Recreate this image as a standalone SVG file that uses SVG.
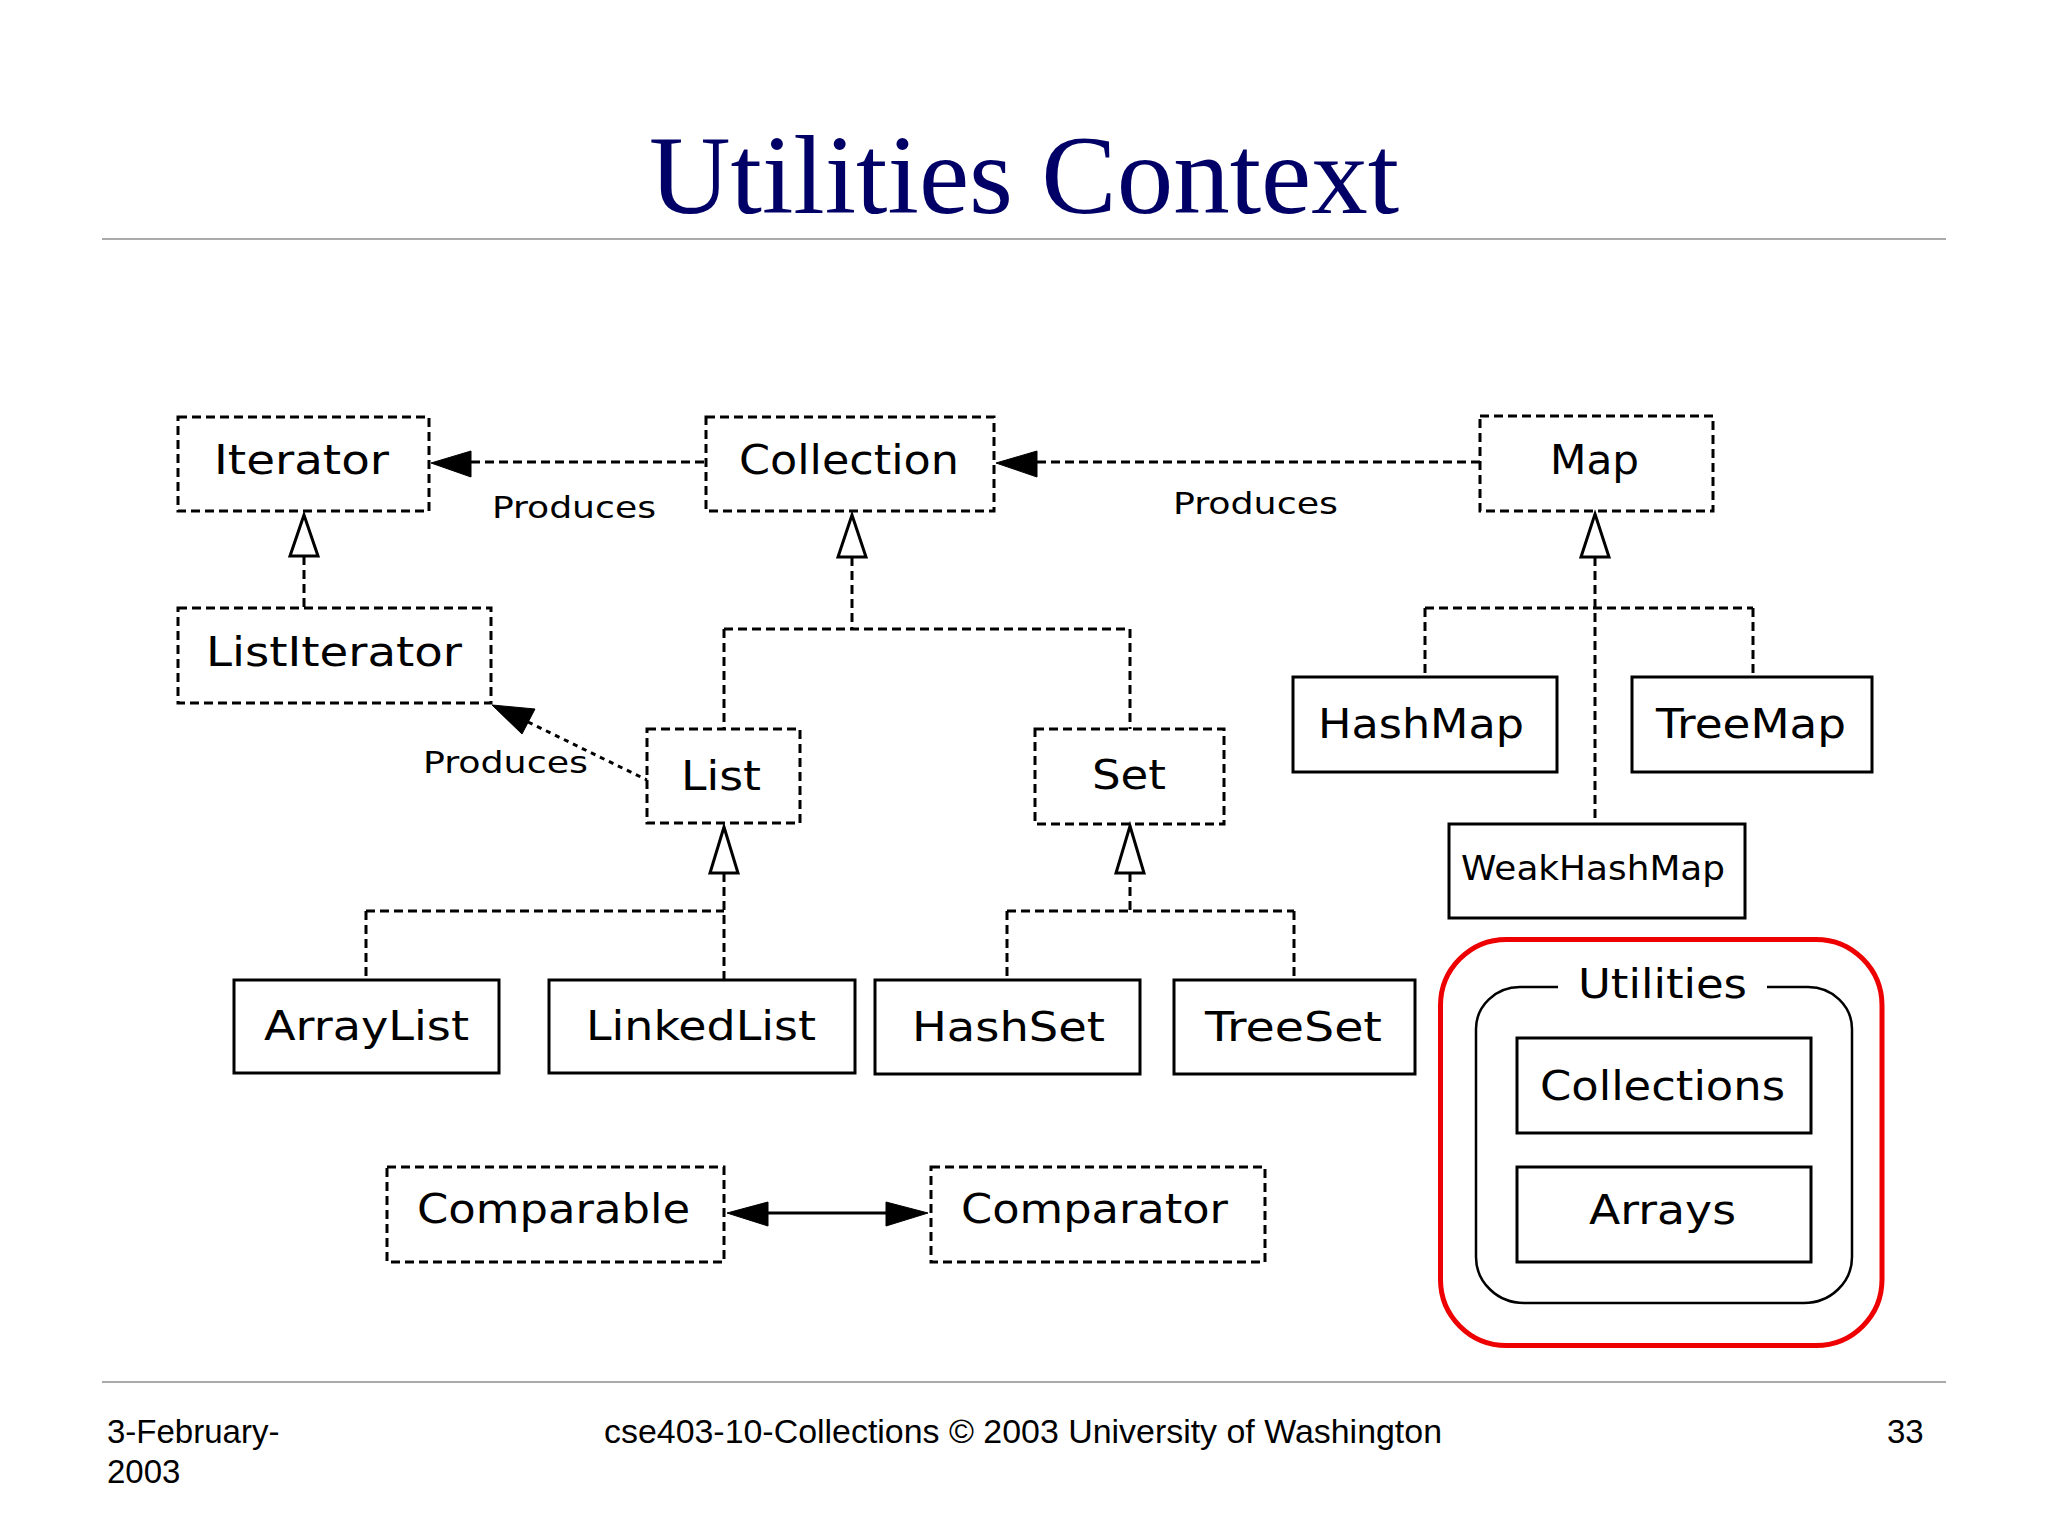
<svg xmlns="http://www.w3.org/2000/svg" width="2048" height="1536" viewBox="0 0 2048 1536">
<style>
.bg{fill:#ffffff}
.dn{fill:none;stroke:#000;stroke-width:3;stroke-dasharray:9 5}
.sn{fill:#fff;stroke:#000;stroke-width:3}
.t{font-family:"DejaVu Sans","Liberation Sans",sans-serif;font-size:40px;fill:#000}
.ts{font-family:"DejaVu Sans","Liberation Sans",sans-serif;font-size:34px;fill:#000}
.pl{font-family:"DejaVu Sans Condensed","DejaVu Sans",sans-serif;font-size:31px;fill:#000}
.c{fill:none;stroke:#000;stroke-width:3;stroke-dasharray:9 5}
.cs{fill:none;stroke:#000;stroke-width:3}
.inh{fill:#fff;stroke:#000;stroke-width:3;stroke-linejoin:miter}
.hd{fill:#000;stroke:#000;stroke-width:1}
.rule{stroke:#aaaaaa;stroke-width:2}
.title{font-family:"Liberation Serif","Times New Roman",serif;font-size:113px;fill:#000066}
.foot{font-family:"Liberation Sans",Arial,sans-serif;font-size:33px;fill:#000}
</style>
<rect class="bg" x="0" y="0" width="2048" height="1536"/>
<text class="title" x="1024" y="213" text-anchor="middle">Utilities Context</text>
<line class="rule" x1="102" y1="239" x2="1946" y2="239"/>
<line class="rule" x1="102" y1="1382" x2="1946" y2="1382"/>

<g id="connectors">
  <!-- Produces: Collection -> Iterator -->
  <line class="c" x1="471" y1="462" x2="706" y2="462"/>
  <polygon class="hd" points="431,463 471,451 471,477"/>
  <!-- Produces: Map -> Collection -->
  <line class="c" x1="1037" y1="462" x2="1480" y2="462"/>
  <polygon class="hd" points="996,463 1037,451 1037,477"/>
  <!-- Produces: List -> ListIterator -->
  <line class="c" x1="528" y1="722" x2="647" y2="780" style="stroke-dasharray:5 5"/>
  <polygon class="hd" points="492,705 535,709 522,734"/>
  <!-- ListIterator -> Iterator -->
  <line class="c" x1="304" y1="556" x2="304" y2="608"/>
  <polygon class="inh" points="304,515 318,556 290,556"/>
  <!-- List, Set -> Collection -->
  <path class="c" d="M852 557 V629 M724 629 H1130 M724 629 V729 M1130 629 V729"/>
  <polygon class="inh" points="852,515 866,557 838,557"/>
  <!-- HashMap, TreeMap, WeakHashMap -> Map -->
  <path class="c" d="M1595 557 V824 M1425 608 H1753 M1425 608 V677 M1753 608 V677"/>
  <polygon class="inh" points="1595,514 1609,557 1581,557"/>
  <!-- ArrayList, LinkedList -> List -->
  <path class="c" d="M724 873 V980 M366 911 H724 M366 911 V980"/>
  <polygon class="inh" points="724,827 738,873 710,873"/>
  <!-- HashSet, TreeSet -> Set -->
  <path class="c" d="M1130 873 V911 M1007 911 H1294 M1007 911 V980 M1294 911 V980"/>
  <polygon class="inh" points="1130,826 1144,873 1116,873"/>
  <!-- Comparable <-> Comparator -->
  <line class="cs" x1="768" y1="1213" x2="886" y2="1213"/>
  <polygon class="hd" points="727,1213 768,1202 768,1226"/>
  <polygon class="hd" points="928,1213 886,1202 886,1226"/>
  <text class="pl" x="492" y="518" textLength="164" lengthAdjust="spacingAndGlyphs">Produces</text>
  <text class="pl" x="1173" y="514" textLength="165" lengthAdjust="spacingAndGlyphs">Produces</text>
  <text class="pl" x="423" y="773" textLength="165" lengthAdjust="spacingAndGlyphs">Produces</text>
</g>

<g id="Iterator">
  <rect class="dn" x="178" y="417" width="251" height="94"/>
  <text class="t" x="214" y="474" textLength="175" lengthAdjust="spacingAndGlyphs">Iterator</text>
</g>
<g id="Collection">
  <rect class="dn" x="706" y="417" width="288" height="94"/>
  <text class="t" x="739" y="474" textLength="220" lengthAdjust="spacingAndGlyphs">Collection</text>
</g>
<g id="Map">
  <rect class="dn" x="1480" y="416" width="233" height="95"/>
  <text class="t" x="1550" y="474" textLength="89" lengthAdjust="spacingAndGlyphs">Map</text>
</g>
<g id="ListIterator">
  <rect class="dn" x="178" y="608" width="313" height="95"/>
  <text class="t" x="206" y="666" textLength="256" lengthAdjust="spacingAndGlyphs">ListIterator</text>
</g>
<g id="List">
  <rect class="dn" x="647" y="729" width="153" height="94"/>
  <text class="t" x="681" y="790" textLength="80" lengthAdjust="spacingAndGlyphs">List</text>
</g>
<g id="Set">
  <rect class="dn" x="1035" y="729" width="189" height="95"/>
  <text class="t" x="1092" y="789" textLength="74" lengthAdjust="spacingAndGlyphs">Set</text>
</g>
<g id="HashMap">
  <rect class="sn" x="1293" y="677" width="264" height="95"/>
  <text class="t" x="1318" y="738" textLength="206" lengthAdjust="spacingAndGlyphs">HashMap</text>
</g>
<g id="TreeMap">
  <rect class="sn" x="1632" y="677" width="240" height="95"/>
  <text class="t" x="1656" y="738" textLength="190" lengthAdjust="spacingAndGlyphs">TreeMap</text>
</g>
<g id="WeakHashMap">
  <rect class="sn" x="1449" y="824" width="296" height="94"/>
  <text class="ts" x="1461" y="880" textLength="264" lengthAdjust="spacingAndGlyphs">WeakHashMap</text>
</g>
<g id="ArrayList">
  <rect class="sn" x="234" y="980" width="265" height="93"/>
  <text class="t" x="264" y="1040" textLength="205" lengthAdjust="spacingAndGlyphs">ArrayList</text>
</g>
<g id="LinkedList">
  <rect class="sn" x="549" y="980" width="306" height="93"/>
  <text class="t" x="586" y="1040" textLength="230" lengthAdjust="spacingAndGlyphs">LinkedList</text>
</g>
<g id="HashSet">
  <rect class="sn" x="875" y="980" width="265" height="94"/>
  <text class="t" x="912" y="1041" textLength="193" lengthAdjust="spacingAndGlyphs">HashSet</text>
</g>
<g id="TreeSet">
  <rect class="sn" x="1174" y="980" width="241" height="94"/>
  <text class="t" x="1205" y="1041" textLength="177" lengthAdjust="spacingAndGlyphs">TreeSet</text>
</g>
<g id="Comparable">
  <rect class="dn" x="387" y="1167" width="337" height="95"/>
  <text class="t" x="417" y="1223" textLength="273" lengthAdjust="spacingAndGlyphs">Comparable</text>
</g>
<g id="Comparator">
  <rect class="dn" x="931" y="1167" width="334" height="95"/>
  <text class="t" x="961" y="1223" textLength="267" lengthAdjust="spacingAndGlyphs">Comparator</text>
</g>
<g id="Utilities">
  <rect x="1440.5" y="939.5" width="441.5" height="406" rx="66" ry="66" fill="none" stroke="#ee0000" stroke-width="5"/>
  <path d="M1558 987 H1520 A44 42 0 0 0 1476 1029 V1257 A48 46 0 0 0 1524 1303 H1804 A48 46 0 0 0 1852 1257 V1029 A44 42 0 0 0 1808 987 H1767" fill="none" stroke="#000" stroke-width="2.5"/>
  <text class="t" x="1578" y="998" textLength="169" lengthAdjust="spacingAndGlyphs">Utilities</text>
</g>
<g id="Collections">
  <rect class="sn" x="1517" y="1038" width="294" height="95"/>
  <text class="t" x="1540" y="1100" textLength="245" lengthAdjust="spacingAndGlyphs">Collections</text>
</g>
<g id="Arrays">
  <rect class="sn" x="1517" y="1167" width="294" height="95"/>
  <text class="t" x="1589" y="1224" textLength="147" lengthAdjust="spacingAndGlyphs">Arrays</text>
</g>

<text class="foot" x="107" y="1443">3-February-</text>
<text class="foot" x="107" y="1483">2003</text>
<text class="foot" x="604" y="1443" textLength="838" lengthAdjust="spacingAndGlyphs">cse403-10-Collections © 2003 University of Washington</text>
<text class="foot" x="1887" y="1443">33</text>
</svg>
